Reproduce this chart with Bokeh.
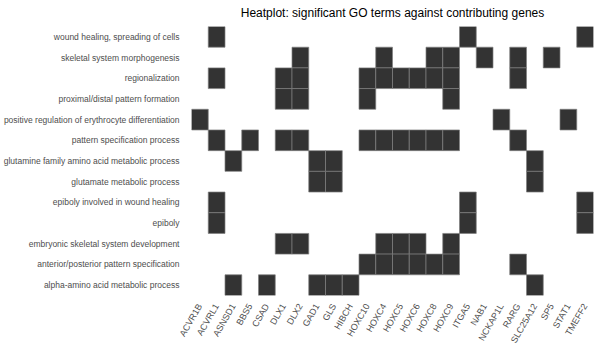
import math
from bokeh.plotting import figure
from bokeh.models import ColumnDataSource
from bokeh.embed import file_html
from bokeh.resources import INLINE

genes = ["ACVR1B", "ACVRL1", "ASNSD1", "BBS5", "CSAD", "DLX1", "DLX2", "GAD1",
         "GLS", "HIBCH", "HOXC10", "HOXC4", "HOXC5", "HOXC6", "HOXC8", "HOXC9",
         "ITGA5", "NAB1", "NCKAP1L", "RARG", "SLC25A12", "SP5", "STAT1", "TMEFF2"]

terms = ["wound healing, spreading of cells",
         "skeletal system morphogenesis",
         "regionalization",
         "proximal/distal pattern formation",
         "positive regulation of erythrocyte differentiation",
         "pattern specification process",
         "glutamine family amino acid metabolic process",
         "glutamate metabolic process",
         "epiboly involved in wound healing",
         "epiboly",
         "embryonic skeletal system development",
         "anterior/posterior pattern specification",
         "alpha-amino acid metabolic process"]

term_genes = [
    ["ACVRL1", "ITGA5", "TMEFF2"],
    ["DLX2", "HOXC4", "HOXC8", "HOXC9", "NAB1", "RARG", "SP5"],
    ["ACVRL1", "DLX1", "DLX2", "HOXC10", "HOXC4", "HOXC5", "HOXC6", "HOXC8", "HOXC9", "RARG"],
    ["DLX1", "DLX2", "HOXC10", "HOXC9"],
    ["ACVR1B", "NCKAP1L", "STAT1"],
    ["ACVRL1", "BBS5", "DLX1", "DLX2", "HOXC10", "HOXC4", "HOXC5", "HOXC6", "HOXC8", "HOXC9", "RARG"],
    ["ASNSD1", "GAD1", "GLS", "SLC25A12"],
    ["GAD1", "GLS", "SLC25A12"],
    ["ACVRL1", "ITGA5", "TMEFF2"],
    ["ACVRL1", "ITGA5", "TMEFF2"],
    ["DLX1", "DLX2", "HOXC4", "HOXC5", "HOXC6", "HOXC9"],
    ["HOXC10", "HOXC4", "HOXC5", "HOXC6", "HOXC8", "HOXC9", "RARG"],
    ["ASNSD1", "CSAD", "GAD1", "GLS", "HIBCH", "SLC25A12"],
]

xs, ys = [], []
for t, gl in zip(terms, term_genes):
    for g in gl:
        xs.append(g)
        ys.append(t)
src = ColumnDataSource(dict(gene=xs, term=ys))

p = figure(width=600, height=350, x_range=genes, y_range=list(reversed(terms)),
           output_backend="svg", toolbar_location=None,
           title="Heatplot: significant GO terms against contributing genes",
           min_border_left=190, min_border_right=7, min_border_top=26,
           min_border_bottom=54)

p.rect(x="gene", y="term", width=1, height=1, source=src,
       fill_color="#333333", line_color="#808080", line_width=0.7)

p.title.align = "center"
p.title.text_font = "Liberation Sans"
p.title.text_font_size = "12px"
p.title.text_font_style = "normal"
p.title.text_color = "#000000"
p.title.vertical_align = "top"

p.outline_line_color = None
p.background_fill_color = "white"
p.border_fill_color = "white"
p.xgrid.grid_line_color = None
p.ygrid.grid_line_color = None

for ax in (p.xaxis[0], p.yaxis[0]):
    ax.axis_line_color = None
    ax.major_tick_line_color = None
    ax.minor_tick_line_color = None
    ax.major_label_text_font = "Liberation Sans"
    ax.major_label_text_color = "#4d4d4d"

p.yaxis.major_label_text_font_size = "8.5px"
p.xaxis.major_label_text_font_size = "9px"
p.xaxis.major_label_orientation = math.pi / 3
p.xaxis.major_label_standoff = 3
p.yaxis.major_label_standoff = 6
p.x_range.range_padding = 0
p.y_range.range_padding = 0

open("out.html", "w").write(file_html(p, INLINE))
